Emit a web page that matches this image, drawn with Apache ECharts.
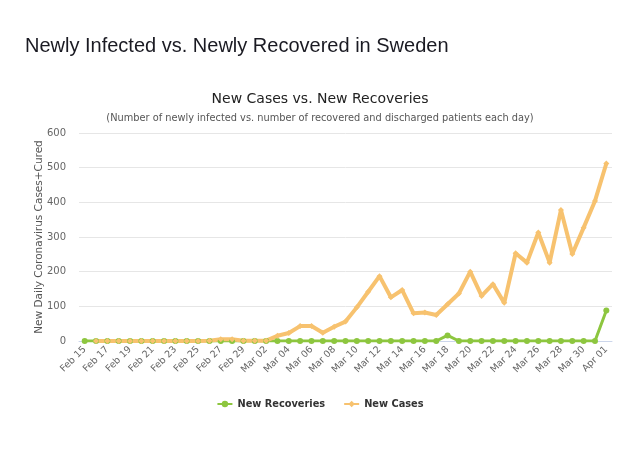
<!DOCTYPE html>
<html>
<head>
<meta charset="utf-8">
<script src="https://cdn.jsdelivr.net/npm/echarts@6/dist/echarts.min.js"></script>
<style>
html,body{margin:0;padding:0;background:#fff;}
#main{width:640px;height:449px;}
</style>
</head>
<body>
<div id="main"></div>
<script>
var categories = ["Feb 15","Feb 16","Feb 17","Feb 18","Feb 19","Feb 20","Feb 21","Feb 22","Feb 23","Feb 24","Feb 25","Feb 26","Feb 27","Feb 28","Feb 29",
"Mar 01","Mar 02","Mar 03","Mar 04","Mar 05","Mar 06","Mar 07","Mar 08","Mar 09","Mar 10","Mar 11","Mar 12","Mar 13","Mar 14","Mar 15","Mar 16",
"Mar 17","Mar 18","Mar 19","Mar 20","Mar 21","Mar 22","Mar 23","Mar 24","Mar 25","Mar 26","Mar 27","Mar 28","Mar 29","Mar 30","Mar 31","Apr 01"];
var newRecoveries = [0,0,0,0,0,0,0,0,0,0,0,0,0,0,0,
0,0,0,0,0,0,0,0,0,0,0,0,0,0,0,0,
0,16,0,0,0,0,0,0,0,0,0,0,0,0,0,88];
var newCases = [null,0,0,0,0,0,0,0,0,0,0,1,5,5,1,
1,1,15,23,43,43,24,41,56,97,142,187,126,147,80,82,
75,106,137,200,130,164,110,253,226,313,226,378,251,327,404,512];
var yTicks = {min:0, max:600, interval:100};

var chart = echarts.init(document.getElementById('main'), null, {renderer:'canvas'});
chart.setOption({
  animation:false,
  backgroundColor:'#ffffff',
  title:[
    {text:'Newly Infected vs. Newly Recovered in Sweden', left:20, top:31,
     textStyle:{fontFamily:'Liberation Sans', fontSize:20, fontWeight:'normal', color:'#1a1a22'}},
    {text:'New Cases vs. New Recoveries', left:'center', top:87,
     textStyle:{fontFamily:'DejaVu Sans', fontSize:14, fontWeight:'normal', color:'#222'}},
    {text:'(Number of newly infected vs. number of recovered and discharged patients each day)', left:'center', top:108,
     textStyle:{fontFamily:'DejaVu Sans', fontSize:9.8, fontWeight:'normal', color:'#555'}}
  ],
  legend:{
    data:['New Recoveries','New Cases'],
    left:'center', top:394, itemWidth:15, itemHeight:8, itemGap:18,
    textStyle:{fontFamily:'DejaVu Sans', fontSize:9.8, fontWeight:'bold', color:'#333'}
  },
  grid:{left:79, right:28, top:133, bottom:108, containLabel:false},
  xAxis:{
    type:'category', data:categories, boundaryGap:true,
    axisLine:{show:true, lineStyle:{color:'#ccd6eb', width:1}},
    axisTick:{show:false},
    axisLabel:{interval:1, rotate:45, margin:7, fontFamily:'DejaVu Sans', fontSize:9.5, color:'#666'},
    splitLine:{show:false}
  },
  yAxis:{
    type:'value', min:yTicks.min, max:yTicks.max, interval:yTicks.interval,
    name:'New Daily Coronavirus Cases+Cured', nameLocation:'middle', nameGap:34,
    nameMoveOverlap:false,
    nameTextStyle:{fontFamily:'DejaVu Sans', fontSize:10.5, color:'#555'},
    axisLine:{show:false}, axisTick:{show:false},
    axisLabel:{margin:13, fontFamily:'DejaVu Sans', fontSize:10, color:'#666'},
    splitLine:{lineStyle:{color:'#e6e6e6', width:1}}
  },
  series:[
    {name:'New Recoveries', type:'line', data:newRecoveries, symbol:'circle', symbolSize:6,
     showAllSymbol:true, color:'#8dc63f',
     lineStyle:{width:3, color:'#8dc63f'}, itemStyle:{color:'#8dc63f'}},
    {name:'New Cases', type:'line', data:newCases, symbol:'diamond', symbolSize:6,
     showAllSymbol:true, color:'#f7c26f', connectNulls:false,
     lineStyle:{width:4, color:'#f7c26f'}, itemStyle:{color:'#f7c26f'}}
  ]
});
</script>
</body>
</html>
